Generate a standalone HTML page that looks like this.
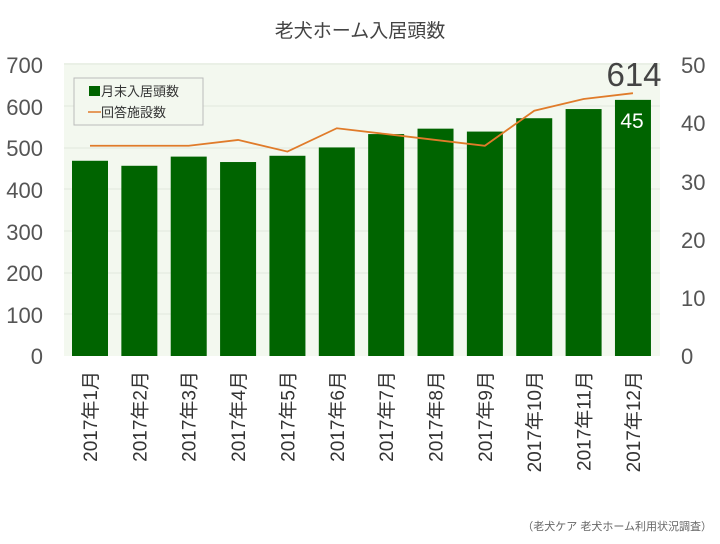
<!DOCTYPE html><html><head><meta charset="utf-8"><style>body{margin:0;background:#fff}svg text{font-family:"Liberation Sans","Noto Sans CJK JP",sans-serif}</style></head><body>
<svg width="720" height="539" xmlns="http://www.w3.org/2000/svg">
<text x="360" y="37" font-size="19" fill="#444" text-anchor="middle">老犬ホーム入居頭数</text>
<rect x="64" y="63" width="596" height="293" fill="#f3f8ef"/>
<g stroke="#e2e8dd" stroke-width="1">
<line x1="64" x2="660" y1="64" y2="64"/><line x1="64" x2="660" y1="106" y2="106"/><line x1="64" x2="660" y1="148" y2="148"/><line x1="64" x2="660" y1="189" y2="189"/><line x1="64" x2="660" y1="231" y2="231"/><line x1="64" x2="660" y1="273" y2="273"/><line x1="64" x2="660" y1="314" y2="314"/></g>
<g font-size="22" fill="#555" text-anchor="end">
<text x="43" y="73">700</text><text x="43" y="115">600</text><text x="43" y="156">500</text><text x="43" y="198">400</text><text x="43" y="240">300</text><text x="43" y="281">200</text><text x="43" y="323">100</text><text x="43" y="364">0</text></g>
<g font-size="22" fill="#555">
<text x="681" y="73">50</text><text x="681" y="131">40</text><text x="681" y="190">30</text><text x="681" y="248">20</text><text x="681" y="306">10</text><text x="681" y="364">0</text></g>
<g fill="#006400" id="bars"></g>
<polyline id="ln" fill="none" stroke="#e07b2a" stroke-width="1.8"/>
<g id="lab" font-size="19" fill="#333"></g>
<rect x="74" y="78" width="129" height="47" fill="#f3f8ef" stroke="#bbb"/>
<rect x="89" y="86" width="11" height="10" fill="#006400"/>
<text x="101" y="96" font-size="13" fill="#333">月末入居頭数</text>
<line x1="88" x2="101" y1="112" y2="112" stroke="#e07b2a" stroke-width="1.5"/>
<text x="101" y="117" font-size="13" fill="#333">回答施設数</text>
<text x="634" y="86" font-size="33" fill="#444" text-anchor="middle">614</text>
<text x="632" y="128" font-size="21" fill="#fff" text-anchor="middle">45</text>
<text x="712" y="530" font-size="11" fill="#666" text-anchor="end">（老犬ケア 老犬ホーム利用状況調査）</text>
</svg>
<script>
var v=[468,456,478,465,480,500,532,545,538,570,592,614],l=[36,36,36,37,35,39,38,37,36,42,44,45];
var b=document.getElementById('bars'),g=document.getElementById('lab'),p=[];
var ns="http://www.w3.org/2000/svg";
for(var i=0;i<12;i++){var c=90+i*49.36;var h=v[i]/700*292;
var r=document.createElementNS(ns,'rect');r.setAttribute('x',c-18);r.setAttribute('y',356-h);r.setAttribute('width',36);r.setAttribute('height',h);b.appendChild(r);
p.push(c+','+(356-l[i]/50*292));
var t=document.createElementNS(ns,'text');t.setAttribute('transform','translate('+(c+7)+',371) rotate(-90)');t.setAttribute('text-anchor','end');t.textContent='2017年'+(i+1)+'月';g.appendChild(t);}
document.getElementById('ln').setAttribute('points',p.join(' '));
</script>
</body></html>
